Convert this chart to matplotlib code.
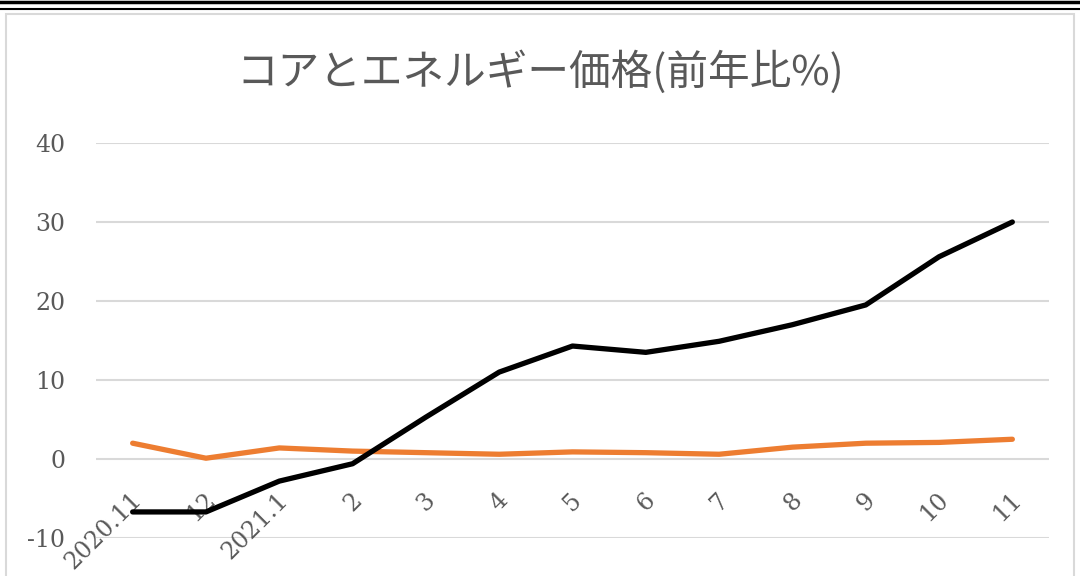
import matplotlib
matplotlib.use("Agg")
from matplotlib import pyplot as plt
from matplotlib.lines import Line2D
from matplotlib.patches import Rectangle

months = ["2020.11", "12", "2021.1", "2", "3", "4", "5", "6", "7", "8", "9", "10", "11"]
energy = [-6.7, -6.7, -2.8, -0.6, 5.3, 11.0, 14.3, 13.5, 14.9, 17.0, 19.5, 25.6, 30.0]
core = [2.0, 0.1, 1.4, 1.0, 0.8, 0.6, 0.9, 0.8, 0.6, 1.5, 2.0, 2.1, 2.5]
yticks = [-10, 0, 10, 20, 30, 40]

gray = "#595959"
serif = ["DejaVu Serif"]

fig = plt.figure(figsize=(10.8, 5.76), dpi=100)
ax = fig.add_axes([96 / 1080, 38 / 576, 953 / 1080, 395 / 576])

x = list(range(len(months)))
ax.plot(x, core, color="#ED7D31", linewidth=3.8, solid_capstyle="round", solid_joinstyle="round", zorder=3)
ax.plot(x, energy, color="black", linewidth=3.8, solid_capstyle="round", solid_joinstyle="round", zorder=4)

ax.set_xlim(-0.5, len(months) - 0.5)
ax.set_ylim(-10, 40)
ax.set_yticks(yticks)
ax.set_yticklabels([str(v) for v in yticks], family=serif, fontsize=17, color=gray)
ax.tick_params(axis="y", length=0, pad=22)
ax.set_xticks([])
ax.grid(axis="y", color="#d9d9d9", linewidth=1.5)
ax.set_axisbelow(True)
for s in ax.spines.values():
    s.set_visible(False)

# category labels sit under the axis line at zero
for i, m in enumerate(months):
    ax.annotate(m, (i, 0), xytext=(4, -27), textcoords="offset points",
                ha="right", va="center", rotation=45, rotation_mode="anchor",
                family=serif, fontsize=17, color=gray, annotation_clip=False)

fig.text(0.5, 1 - 72 / 576, "コアとエネルギー価格(前年比%)", ha="center", va="center",
         fontsize=30, color=gray, family=["Noto Sans CJK JP", "DejaVu Sans"])

# chart frame and the double rule at the top
fig.add_artist(Rectangle((6 / 1080, -0.05), 1068 / 1080, 1.05 - 14 / 576, transform=fig.transFigure,
                         fill=False, edgecolor="#d9d9d9", linewidth=1.5))
fig.add_artist(Line2D([0, 1], [1 - 1.5 / 576] * 2, transform=fig.transFigure, color="black", linewidth=2.5))
fig.add_artist(Line2D([0, 1], [1 - 8.5 / 576] * 2, transform=fig.transFigure, color="black", linewidth=1.5))

fig.savefig("out.png", dpi=100)
